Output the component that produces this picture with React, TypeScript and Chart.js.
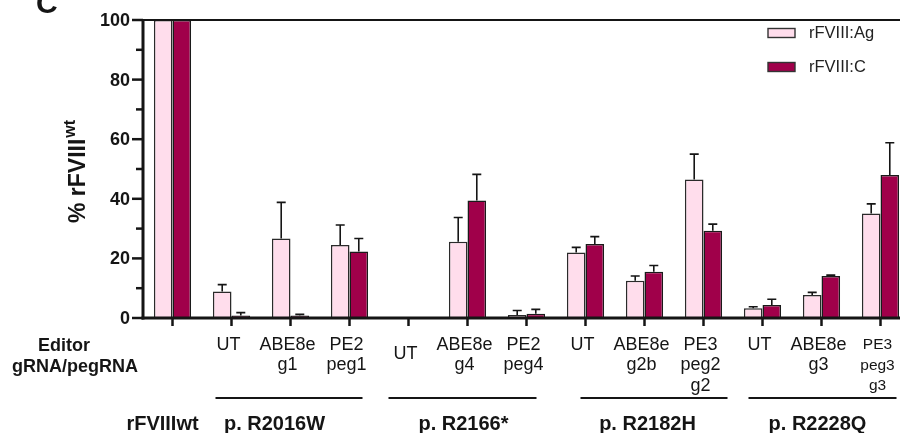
import React, { useEffect, useRef } from "react";
import { Chart, registerables } from "chart.js";

Chart.register(...registerables);

// ---------- data ----------
const categories = [
  "rFVIIIwt",
  "UT", "ABE8e g1", "PE2 peg1",
  "UT", "ABE8e g4", "PE2 peg4",
  "UT", "ABE8e g2b", "PE3 peg2 g2",
  "UT", "ABE8e g3", "PE3 peg3 g3",
];
const tickLabels: string[][] = [
  [],
  ["UT"], ["ABE8e", "g1"], ["PE2", "peg1"],
  ["UT"], ["ABE8e", "g4"], ["PE2", "peg4"],
  ["UT"], ["ABE8e", "g2b"], ["PE3", "peg2", "g2"],
  ["UT"], ["ABE8e", "g3"], ["PE3", "peg3", "g3"],
];
const agMeans = [100, 8.9, 26.7, 24.5, 0, 25.6, 1.0, 22.0, 12.5, 46.5, 3.3, 7.7, 35.1];
const agErr = [0, 2.3, 12.1, 6.7, 0, 8.1, 1.5, 1.7, 1.6, 8.5, 0.5, 0.9, 3.2];
const cMeans = [100, 0.8, 0.8, 22.3, 0, 39.4, 1.4, 24.8, 15.5, 29.3, 4.4, 14.1, 48.0];
const cErr = [0, 1.0, 0.4, 4.4, 0, 8.8, 1.5, 2.5, 2.1, 2.2, 1.9, 0.3, 10.8];

const seriesNames = ["rFVIII:Ag", "rFVIII:C"];
const groupLabels = ["rFVIIIwt", "p. R2016W", "p. R2166*", "p. R2182H", "p. R2228Q"];
const groupFirst = [0, 1, 4, 7, 10];
const groupLast = [0, 3, 6, 9, 12];
const yMajorTicks = [0, 20, 40, 60, 80, 100];
const yMinorTicks = [10, 30, 50, 70, 90];
const rowHeaders = ["Editor", "gRNA/pegRNA"];

// ---------- styles ----------
const PINK = "#FFDDEC";
const WINE = "#A0004A";
const INK = "#151515";
const FONT = "'Liberation Sans', Arial, Helvetica, sans-serif";

const decorPlugin = {
  id: "decor",
  afterDatasetsDraw(chart: any) {
    const ctx = chart.ctx;
    const y = chart.scales.y;
    const errs = [agErr, cErr];
    ctx.save();
    ctx.strokeStyle = INK;
    ctx.lineWidth = 1.6;
    chart.data.datasets.forEach((ds: any, di: number) => {
      const meta = chart.getDatasetMeta(di);
      meta.data.forEach((el: any, i: number) => {
        const e = errs[di][i];
        if (!e) return;
        const v = ds.data[i];
        const yTop = y.getPixelForValue(v + e);
        const yBar = y.getPixelForValue(v);
        ctx.beginPath();
        ctx.moveTo(el.x, yBar);
        ctx.lineTo(el.x, yTop);
        ctx.moveTo(el.x - 4.5, yTop);
        ctx.lineTo(el.x + 4.5, yTop);
        ctx.stroke();
      });
    });
    ctx.restore();
  },
  afterDraw(chart: any) {
    const ctx = chart.ctx;
    const x = chart.scales.x;
    const y = chart.scales.y;
    const area = chart.chartArea;
    const bottom = y.getPixelForValue(0);
    const top = y.getPixelForValue(100);
    ctx.save();
    ctx.strokeStyle = INK;
    ctx.fillStyle = INK;

    // top line
    ctx.lineWidth = 2;
    ctx.beginPath();
    ctx.moveTo(area.left, top);
    ctx.lineTo(area.right, top);
    ctx.stroke();

    // y axis
    ctx.lineWidth = 3;
    ctx.beginPath();
    ctx.moveTo(area.left, top - 1);
    ctx.lineTo(area.left, bottom + 1.5);
    ctx.stroke();
    // x axis
    ctx.beginPath();
    ctx.moveTo(area.left - 1.5, bottom);
    ctx.lineTo(area.right, bottom);
    ctx.stroke();

    // y ticks
    ctx.lineWidth = 2.5;
    yMajorTicks.forEach((v) => {
      const py = y.getPixelForValue(v);
      ctx.beginPath();
      ctx.moveTo(area.left - 11, py);
      ctx.lineTo(area.left, py);
      ctx.stroke();
    });
    yMinorTicks.forEach((v) => {
      const py = y.getPixelForValue(v);
      ctx.beginPath();
      ctx.moveTo(area.left - 7, py);
      ctx.lineTo(area.left, py);
      ctx.stroke();
    });
    ctx.font = `bold 18px ${FONT}`;
    ctx.textAlign = "right";
    ctx.textBaseline = "middle";
    yMajorTicks.forEach((v) => {
      ctx.fillText(String(v), area.left - 13, y.getPixelForValue(v) + 1);
    });

    // x ticks
    ctx.lineWidth = 2.5;
    categories.forEach((_, i) => {
      const px = x.getPixelForValue(i);
      ctx.beginPath();
      ctx.moveTo(px, bottom);
      ctx.lineTo(px, bottom + 8);
      ctx.stroke();
    });

    // x tick labels
    ctx.textAlign = "center";
    ctx.textBaseline = "middle";
    tickLabels.forEach((lines, i) => {
      const px = x.getPixelForValue(i) - 3;
      const small = i === tickLabels.length - 1;
      ctx.font = `${small ? 15.5 : 18}px ${FONT}`;
      const startY = bottom + 27 + (i === 4 ? 9 : 0);
      lines.forEach((t, k) => {
        ctx.fillText(t, px, startY + k * 20.5);
      });
    });

    // row headers
    ctx.font = `bold 18px ${FONT}`;
    ctx.fillText(rowHeaders[0], 64, bottom + 28);
    ctx.fillText(rowHeaders[1], 75, bottom + 49);

    // group lines and labels
    const lineOffsets = [[0, 0], [-16, 13], [-20, 10], [-5, 24], [-14, 16]];
    const labelOffsets = [-10, -16, -4, 3, -4];
    ctx.lineWidth = 2;
    groupLabels.forEach((g, gi) => {
      const x0 = x.getPixelForValue(groupFirst[gi]);
      const x1 = x.getPixelForValue(groupLast[gi]);
      if (gi > 0) {
        ctx.beginPath();
        ctx.moveTo(x0 + lineOffsets[gi][0], bottom + 80);
        ctx.lineTo(x1 + lineOffsets[gi][1], bottom + 80);
        ctx.stroke();
      }
      ctx.font = `bold 20px ${FONT}`;
      ctx.textBaseline = "alphabetic";
      ctx.fillText(g, (x0 + x1) / 2 + labelOffsets[gi], bottom + 112);
    });

    // legend
    const colors = [PINK, WINE];
    ctx.textAlign = "left";
    ctx.textBaseline = "middle";
    ctx.font = `16.5px ${FONT}`;
    seriesNames.forEach((n, i) => {
      const ly = 33 + i * 34;
      ctx.fillStyle = colors[i];
      ctx.fillRect(768, ly - 4.5, 27, 9);
      ctx.lineWidth = 1.4;
      ctx.strokeStyle = "#333";
      ctx.strokeRect(768, ly - 4.5, 27, 9);
      ctx.fillStyle = "#222";
      ctx.fillText(n, 809, ly);
    });

    // y title
    ctx.fillStyle = INK;
    ctx.save();
    ctx.translate(85, 223);
    ctx.rotate(-Math.PI / 2);
    ctx.textAlign = "left";
    ctx.textBaseline = "alphabetic";
    ctx.font = `bold 23px ${FONT}`;
    const main = "% rFVIII";
    ctx.fillText(main, 0, 0);
    const w = ctx.measureText(main).width;
    ctx.font = `bold 16px ${FONT}`;
    ctx.fillText("wt", w + 1, -10);
    ctx.restore();

    // panel letter
    ctx.font = `bold 30px ${FONT}`;
    ctx.textAlign = "left";
    ctx.textBaseline = "alphabetic";
    ctx.fillText("C", 36, 13);

    ctx.restore();
  },
};

export default function App() {
  const ref = useRef<HTMLCanvasElement | null>(null);
  useEffect(() => {
    if (!ref.current) return;
    const chart = new Chart(ref.current, {
      type: "bar",
      data: {
        labels: categories,
        datasets: [
          {
            label: seriesNames[0],
            data: agMeans,
            backgroundColor: PINK,
            borderColor: "#2a2a2a",
            borderWidth: (c: any) => (c.raw === 0 ? 0 : 1.5),
            categoryPercentage: 0.63,
            barPercentage: 1,
          },
          {
            label: seriesNames[1],
            data: cMeans,
            backgroundColor: WINE,
            borderColor: "#1a1a1a",
            borderWidth: (c: any) => (c.raw === 0 ? 0 : 1.5),
            categoryPercentage: 0.63,
            barPercentage: 1,
          },
        ],
      },
      options: {
        responsive: false,
        animation: false,
        layout: { padding: { left: 143, top: 20, right: 10, bottom: 115 } },
        plugins: { legend: { display: false }, tooltip: { enabled: false } },
        scales: {
          x: { display: false, offset: true },
          y: { display: false, min: 0, max: 100 },
        },
      },
      plugins: [decorPlugin],
    } as any);
    return () => chart.destroy();
  }, []);
  return (
    <div
      style={{
        position: "fixed",
        left: 0,
        top: 0,
        width: 900,
        height: 433,
        overflow: "hidden",
        background: "#fff",
      }}
    >
      <canvas ref={ref} width={920} height={433} style={{ display: "block" }} />
    </div>
  );
}
